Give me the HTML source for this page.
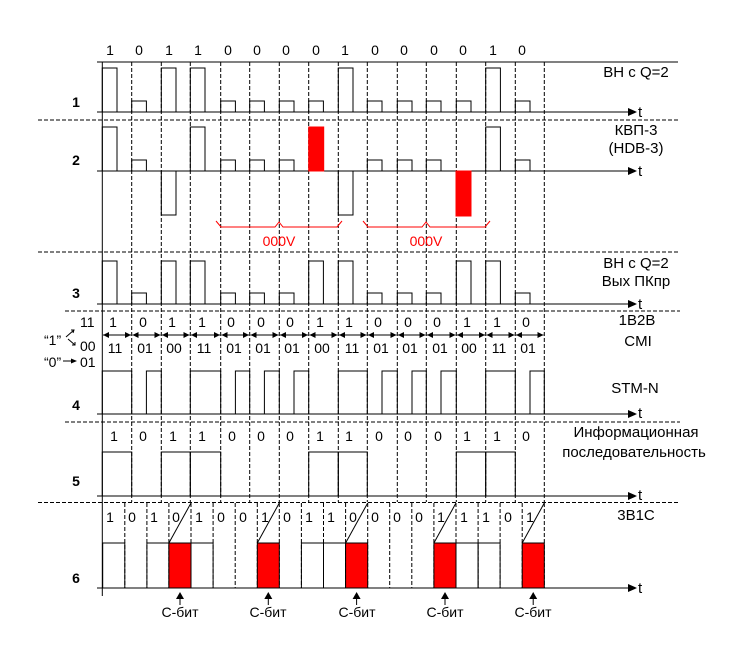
<!DOCTYPE html>
<html><head><meta charset="utf-8"><style>
html,body{margin:0;padding:0;background:#fff;}
svg{display:block;}
text{font-family:"Liberation Sans",sans-serif;font-size:14px;fill:#000;}
.b{font-weight:bold;}
.r{fill:#f00;}
.l{font-size:15px;}
</style></head><body>
<svg width="756" height="661" viewBox="0 0 756 661" xmlns="http://www.w3.org/2000/svg">
<g stroke="#000" stroke-width="1" fill="none">
<g stroke-dasharray="4,2">
<line x1="38" y1="120" x2="680" y2="120"/>
<line x1="38" y1="252" x2="680" y2="252"/>
<line x1="65" y1="311" x2="680" y2="311"/>
<line x1="65" y1="422" x2="680" y2="422"/>
<line x1="38" y1="502.5" x2="680" y2="502.5"/>
<line x1="131.7" y1="62" x2="131.7" y2="502"/><line x1="161.3" y1="62" x2="161.3" y2="502"/>
<line x1="190.3" y1="62" x2="190.3" y2="502"/><line x1="220.7" y1="62" x2="220.7" y2="502"/>
<line x1="249.7" y1="62" x2="249.7" y2="502"/><line x1="279.3" y1="62" x2="279.3" y2="502"/>
<line x1="308.7" y1="62" x2="308.7" y2="502"/><line x1="338.3" y1="62" x2="338.3" y2="502"/>
<line x1="367.3" y1="62" x2="367.3" y2="502"/><line x1="397.3" y1="62" x2="397.3" y2="502"/>
<line x1="426.3" y1="62" x2="426.3" y2="502"/><line x1="456.3" y1="62" x2="456.3" y2="502"/>
<line x1="485.7" y1="62" x2="485.7" y2="502"/><line x1="515.3" y1="62" x2="515.3" y2="502"/>
<line x1="544.3" y1="62" x2="544.3" y2="502"/>
<line x1="124.8" y1="503" x2="124.8" y2="588"/><line x1="146.9" y1="503" x2="146.9" y2="588"/>
<line x1="168.9" y1="503" x2="168.9" y2="588"/><line x1="191" y1="503" x2="191" y2="588"/>
<line x1="213.1" y1="503" x2="213.1" y2="588"/><line x1="235.2" y1="503" x2="235.2" y2="588"/>
<line x1="257.3" y1="503" x2="257.3" y2="588"/><line x1="279.3" y1="503" x2="279.3" y2="588"/>
<line x1="301.4" y1="503" x2="301.4" y2="588"/><line x1="323.5" y1="503" x2="323.5" y2="588"/>
<line x1="345.6" y1="503" x2="345.6" y2="588"/><line x1="367.7" y1="503" x2="367.7" y2="588"/>
<line x1="389.7" y1="503" x2="389.7" y2="588"/><line x1="411.8" y1="503" x2="411.8" y2="588"/>
<line x1="433.9" y1="503" x2="433.9" y2="588"/><line x1="456" y1="503" x2="456" y2="588"/>
<line x1="478.1" y1="503" x2="478.1" y2="588"/><line x1="500.1" y1="503" x2="500.1" y2="588"/>
<line x1="522.2" y1="503" x2="522.2" y2="588"/><line x1="544.3" y1="503" x2="544.3" y2="588"/>
</g>
<line x1="102.3" y1="62" x2="102.3" y2="596"/>
<line x1="97" y1="62" x2="678" y2="62"/>
<line x1="97" y1="112" x2="630" y2="112"/>
<line x1="97" y1="171" x2="630" y2="171"/>
<line x1="97" y1="304" x2="630" y2="304"/>
<line x1="97" y1="414" x2="630" y2="414"/>
<line x1="97" y1="496" x2="630" y2="496"/>
<line x1="97" y1="588" x2="630" y2="588"/>

<rect x="102.3" y="68" width="14.7" height="44"/><rect x="131.7" y="101" width="14.7" height="11"/>
<rect x="161.3" y="68" width="14.7" height="44"/><rect x="190.3" y="68" width="14.7" height="44"/>
<rect x="220.7" y="101" width="14.7" height="11"/><rect x="249.7" y="101" width="14.7" height="11"/>
<rect x="279.3" y="101" width="14.7" height="11"/><rect x="308.7" y="101" width="14.7" height="11"/>
<rect x="338.3" y="68" width="14.7" height="44"/><rect x="367.3" y="101" width="14.7" height="11"/>
<rect x="397.3" y="101" width="14.7" height="11"/><rect x="426.3" y="101" width="14.7" height="11"/>
<rect x="456.3" y="101" width="14.7" height="11"/><rect x="485.7" y="68" width="14.7" height="44"/>
<rect x="515.3" y="101" width="14.7" height="11"/>

<rect x="102.3" y="127" width="14.7" height="44"/><rect x="131.7" y="160" width="14.7" height="11"/>
<rect x="161.3" y="171" width="14.7" height="44"/><rect x="190.3" y="127" width="14.7" height="44"/>
<rect x="220.7" y="160" width="14.7" height="11"/><rect x="249.7" y="160" width="14.7" height="11"/>
<rect x="279.3" y="160" width="14.7" height="11"/>
<rect x="308.7" y="127" width="15" height="44" fill="#f00" stroke="#f00"/>
<rect x="338.3" y="171" width="14.7" height="44"/><rect x="367.3" y="160" width="14.7" height="11"/>
<rect x="397.3" y="160" width="14.7" height="11"/><rect x="426.3" y="160" width="14.7" height="11"/>
<rect x="456" y="171" width="15" height="45" fill="#f00" stroke="#f00"/>
<rect x="485.7" y="127" width="14.7" height="44"/><rect x="515.3" y="160" width="14.7" height="11"/>

<rect x="102.3" y="261" width="14.7" height="43"/><rect x="131.7" y="293" width="14.7" height="11"/>
<rect x="161.3" y="261" width="14.7" height="43"/><rect x="190.3" y="261" width="14.7" height="43"/>
<rect x="220.7" y="293" width="14.7" height="11"/><rect x="249.7" y="293" width="14.7" height="11"/>
<rect x="279.3" y="293" width="14.7" height="11"/><rect x="308.7" y="261" width="14.7" height="43"/>
<rect x="338.3" y="261" width="14.7" height="43"/><rect x="367.3" y="293" width="14.7" height="11"/>
<rect x="397.3" y="293" width="14.7" height="11"/><rect x="426.3" y="293" width="14.7" height="11"/>
<rect x="456.3" y="261" width="14.7" height="43"/><rect x="485.7" y="261" width="14.7" height="43"/>
<rect x="515.3" y="293" width="14.7" height="11"/>

<path d="M102.3,414 V371 H131.7 V414 H146.4 V371 H161.3 V414 H190.3 V371 H220.7 V414 H235.4 V371 H249.7 V414 H264.4 V371 H279.3 V414 H294 V371 H308.7 V414 H338.3 V371 H367.3 V414 H382 V371 H397.3 V414 H412 V371 H426.3 V414 H441 V371 H456.3 V414 H485.7 V371 H515.3 V414 H530 V371 H544.3 V414"/>

<rect x="102.3" y="452" width="29.4" height="44"/><rect x="161.3" y="452" width="29" height="44"/>
<rect x="190.3" y="452" width="30.4" height="44"/><rect x="308.7" y="452" width="29.6" height="44"/>
<rect x="338.3" y="452" width="29" height="44"/><rect x="456.3" y="452" width="29.4" height="44"/>
<rect x="485.7" y="452" width="29.6" height="44"/>

<rect x="102.7" y="543" width="22.1" height="45"/><rect x="146.9" y="543" width="22" height="45"/>
<rect x="191" y="543" width="22.1" height="45"/><rect x="301.4" y="543" width="22.1" height="45"/>
<rect x="323.5" y="543" width="22.1" height="45"/><rect x="456" y="543" width="22.1" height="45"/>
<rect x="478.1" y="543" width="22" height="45"/>
<g fill="#f00">
<rect x="168.9" y="543" width="22.1" height="45"/><rect x="257.3" y="543" width="22" height="45"/>
<rect x="345.6" y="543" width="22.1" height="45"/><rect x="433.9" y="543" width="22.1" height="45"/>
<rect x="522.2" y="543" width="22.1" height="45"/>
</g>
<line x1="168.9" y1="543" x2="191" y2="503"/><line x1="257.3" y1="543" x2="279.3" y2="503"/>
<line x1="345.6" y1="543" x2="367.7" y2="503"/><line x1="433.9" y1="543" x2="456" y2="503"/>
<line x1="522.2" y1="543" x2="544.3" y2="503"/>

<line x1="180" y1="605" x2="180" y2="595"/><line x1="268.3" y1="605" x2="268.3" y2="595"/>
<line x1="356.6" y1="605" x2="356.6" y2="595"/><line x1="445" y1="605" x2="445" y2="595"/>
<line x1="533.2" y1="605" x2="533.2" y2="595"/>

<g>
<line x1="103" y1="335" x2="131" y2="335"/><line x1="132.5" y1="335" x2="160.5" y2="335"/>
<line x1="162" y1="335" x2="189.5" y2="335"/><line x1="191" y1="335" x2="220" y2="335"/>
<line x1="221.5" y1="335" x2="249" y2="335"/><line x1="250.5" y1="335" x2="278.5" y2="335"/>
<line x1="280" y1="335" x2="308" y2="335"/><line x1="309.5" y1="335" x2="337.5" y2="335"/>
<line x1="339" y1="335" x2="366.5" y2="335"/><line x1="368" y1="335" x2="396.5" y2="335"/>
<line x1="398" y1="335" x2="425.5" y2="335"/><line x1="427" y1="335" x2="455.5" y2="335"/>
<line x1="457" y1="335" x2="485" y2="335"/><line x1="486.5" y1="335" x2="514.5" y2="335"/>
<line x1="516" y1="335" x2="543.5" y2="335"/>
</g>
<path stroke="#f00" d="M216,221 L221,227 L275,227 L279,222 L283,227 L337,227 L342,221"/>
<path stroke="#f00" d="M363,221 L368,227 L422,227 L426,222 L430,227 L485,227 L490,221"/>
<path d="M66,337 L74,330 M71,330 L74,330 L73,333"/>
<path d="M68,339 L75,345 M72,345 L75,345 L75,342"/>
<line x1="63" y1="361" x2="72" y2="361"/>
</g>
<g fill="#000">
<path d="M628,108 L637,112 L628,116Z"/><path d="M628,167 L637,171 L628,175Z"/>
<path d="M628,300 L637,304 L628,308Z"/><path d="M628,410 L637,414 L628,418Z"/>
<path d="M628,492 L637,496 L628,500Z"/><path d="M628,584 L637,588 L628,592Z"/>
<path d="M176,599 L180,592 L184,599Z"/><path d="M264.3,599 L268.3,592 L272.3,599Z"/>
<path d="M352.6,599 L356.6,592 L360.6,599Z"/><path d="M441,599 L445,592 L449,599Z"/>
<path d="M529.2,599 L533.2,592 L537.2,599Z"/>
<path d="M77,361 L71,358.5 L71,363.5Z"/>
<path d="M103,335 l6,-3 v6Z"/><path d="M131,335 l-6,-3 v6Z"/><path d="M132.5,335 l6,-3 v6Z"/><path d="M160.5,335 l-6,-3 v6Z"/>
<path d="M162,335 l6,-3 v6Z"/><path d="M189.5,335 l-6,-3 v6Z"/><path d="M191,335 l6,-3 v6Z"/><path d="M220,335 l-6,-3 v6Z"/>
<path d="M221.5,335 l6,-3 v6Z"/><path d="M249,335 l-6,-3 v6Z"/><path d="M250.5,335 l6,-3 v6Z"/><path d="M278.5,335 l-6,-3 v6Z"/>
<path d="M280,335 l6,-3 v6Z"/><path d="M308,335 l-6,-3 v6Z"/><path d="M309.5,335 l6,-3 v6Z"/><path d="M337.5,335 l-6,-3 v6Z"/>
<path d="M339,335 l6,-3 v6Z"/><path d="M366.5,335 l-6,-3 v6Z"/><path d="M368,335 l6,-3 v6Z"/><path d="M396.5,335 l-6,-3 v6Z"/>
<path d="M398,335 l6,-3 v6Z"/><path d="M425.5,335 l-6,-3 v6Z"/><path d="M427,335 l6,-3 v6Z"/><path d="M455.5,335 l-6,-3 v6Z"/>
<path d="M457,335 l6,-3 v6Z"/><path d="M485,335 l-6,-3 v6Z"/><path d="M486.5,335 l6,-3 v6Z"/><path d="M514.5,335 l-6,-3 v6Z"/>
<path d="M516,335 l6,-3 v6Z"/><path d="M543.5,335 l-6,-3 v6Z"/>
</g>

<g text-anchor="middle">
<text x="110" y="55">1</text><text x="139" y="55">0</text><text x="169" y="55">1</text><text x="198" y="55">1</text>
<text x="228" y="55">0</text><text x="257" y="55">0</text><text x="286" y="55">0</text><text x="316" y="55">0</text>
<text x="345" y="55">1</text><text x="375" y="55">0</text><text x="404" y="55">0</text><text x="434" y="55">0</text>
<text x="463" y="55">0</text><text x="493" y="55">1</text><text x="522" y="55">0</text>

<text class="b" x="76" y="107">1</text><text class="b" x="76" y="165">2</text>
<text class="b" x="76" y="298">3</text><text class="b" x="76" y="410">4</text>
<text class="b" x="76" y="486">5</text><text class="b" x="76" y="583">6</text>

<text class="l" x="636" y="77">ВН с Q=2</text>
<text class="l" x="636" y="135">КВП-3</text><text class="l" x="636" y="153">(HDB-3)</text>
<text class="l" x="636" y="268">ВН с Q=2</text><text class="l" x="636" y="286">Вых ПКпр</text>
<text class="l" x="637" y="325">1B2B</text><text class="l" x="638" y="346">CMI</text>
<text class="l" x="635" y="393">STM-N</text>
<text class="l" x="636" y="437">Информационная</text><text class="l" x="634" y="457">последовательность</text>
<text class="l" x="636" y="520">3B1C</text>

<text class="r" x="279" y="246">000V</text><text class="r" x="426" y="246">000V</text>

<text x="113" y="327">1</text><text x="143" y="327">0</text><text x="172" y="327">1</text><text x="202" y="327">1</text>
<text x="231" y="327">0</text><text x="261" y="327">0</text><text x="290" y="327">0</text><text x="320" y="327">1</text>
<text x="349" y="327">1</text><text x="378" y="327">0</text><text x="408" y="327">0</text><text x="437" y="327">0</text>
<text x="467" y="327">1</text><text x="497" y="327">1</text><text x="526" y="327">0</text>
<text x="115" y="353">11</text><text x="145" y="353">01</text><text x="174" y="353">00</text><text x="204" y="353">11</text>
<text x="234" y="353">01</text><text x="263" y="353">01</text><text x="292" y="353">01</text><text x="322" y="353">00</text>
<text x="352" y="353">11</text><text x="381" y="353">01</text><text x="410" y="353">01</text><text x="440" y="353">01</text>
<text x="469" y="353">00</text><text x="499" y="353">11</text><text x="528" y="353">01</text>

<text x="114" y="441">1</text><text x="143" y="441">0</text><text x="173" y="441">1</text><text x="202" y="441">1</text>
<text x="232" y="441">0</text><text x="261" y="441">0</text><text x="290" y="441">0</text><text x="320" y="441">1</text>
<text x="349" y="441">1</text><text x="379" y="441">0</text><text x="408" y="441">0</text><text x="438" y="441">0</text>
<text x="467" y="441">1</text><text x="497" y="441">1</text><text x="526" y="441">0</text>

<text x="110" y="522">1</text><text x="132" y="522">0</text><text x="154" y="522">1</text><text x="176" y="522">0</text>
<text x="199" y="522">1</text><text x="221" y="522">0</text><text x="243" y="522">0</text><text x="265" y="522">1</text>
<text x="287" y="522">0</text><text x="309" y="522">1</text><text x="331" y="522">1</text><text x="353" y="522">0</text>
<text x="375" y="522">0</text><text x="397" y="522">0</text><text x="419" y="522">0</text><text x="441" y="522">1</text>
<text x="464" y="522">1</text><text x="486" y="522">1</text><text x="508" y="522">0</text><text x="530" y="522">1</text>

<text x="180" y="617">С-бит</text><text x="268" y="617">С-бит</text><text x="357" y="617">С-бит</text>
<text x="445" y="617">С-бит</text><text x="533" y="617">С-бит</text>
</g>
<g>
<text x="638" y="117" style="font-size:15px">t</text><text x="638" y="176" style="font-size:15px">t</text>
<text x="638" y="309" style="font-size:15px">t</text><text x="638" y="418" style="font-size:15px">t</text>
<text x="638" y="500" style="font-size:15px">t</text><text x="638" y="593" style="font-size:15px">t</text>
<text x="44" y="345">“1”</text>
<text x="80" y="327">11</text>
<text x="80" y="351">00</text>
<text x="44" y="367">“0”</text>
<text x="80" y="367">01</text>
</g>
</svg>
</body></html>
